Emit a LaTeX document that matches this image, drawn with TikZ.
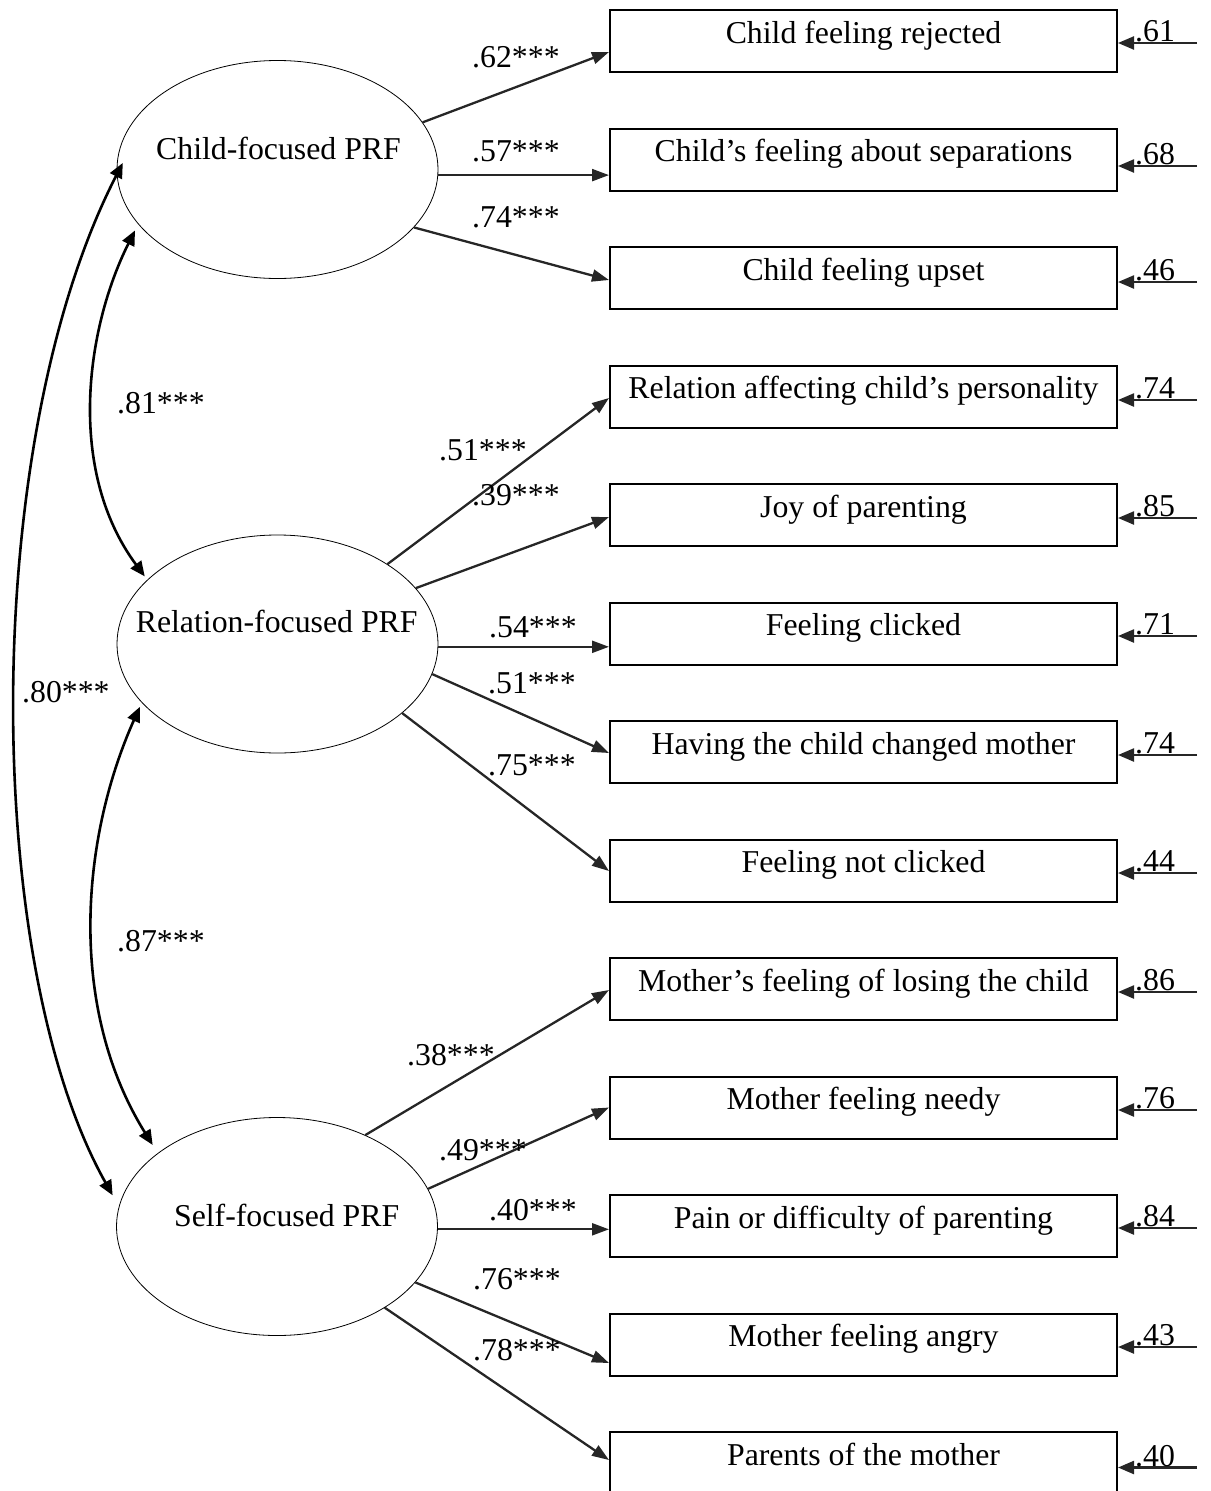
\documentclass[tikz,border=0pt]{standalone}
\usepackage{fontspec}
\setmainfont{Liberation Serif}
\usetikzlibrary{arrows.meta,shapes.geometric,calc}
\newcommand\myfs{\fontsize{31.8}{36}\selectfont}
\begin{document}
\begin{tikzpicture}[x=1pt,y=-1pt,
  lat/.style={ellipse, draw, line width=0.8pt, minimum width=321pt, minimum height=218pt, inner sep=0pt},
  lattxt/.style={font=\myfs, inner sep=0pt, anchor=base},
  ind/.style={draw, line width=2pt, minimum width=507pt, minimum height=62pt, inner sep=0pt,
              text height=22pt, text depth=18pt, font=\myfs},
  ldg/.style={draw=black!85, line width=2.3pt, -{Triangle[length=17pt,width=12pt]}},
  err/.style={draw=black!85, line width=2.3pt, -{Triangle[length=16pt,width=13pt]}},
  cur/.style={draw=black, line width=2.6pt, {Triangle[length=15pt,width=13pt]}-{Triangle[length=15pt,width=13pt]}},
  coef/.style={font=\myfs, inner sep=0pt, anchor=base west}
]
\useasboundingbox (0,0) rectangle (1210,1491);

% latent variables
\node[lat] (cf) at (277.5,169.5) {};
\node[lat] (rf) at (277.5,644) {};
\node[lat] (sf) at (277,1226.5) {};
\node[lattxt] (cft) at (278.5,159.3) {Child-focused PRF};
\node[lattxt] (rft) at (276.7,632.7) {Relation-focused PRF};
\node[lattxt] (sft) at (286.7,1226.7) {Self-focused PRF};

% indicators with error terms
\foreach \i/\txt/\er/\dd in {
  1/Child feeling rejected/.61/2,
  2/Child’s feeling about separations/.68/6.5,
  3/Child feeling upset/.46/4,
  4/Relation affecting child’s personality/.74/3.5,
  5/Joy of parenting/.85/3,
  6/Feeling clicked/.71/2.5,
  7/Having the child changed mother/.74/3,
  8/Feeling not clicked/.44/2.5,
  9/Mother’s feeling of losing the child/.86/3,
  10/Mother feeling needy/.76/2.5,
  11/Pain or difficulty of parenting/.84/2,
  12/Mother feeling angry/.43/2.5,
  13/Parents of the mother/.40/4.5}{
  \node[ind] (b\i) at (863.5,{41+118.5*(\i-1)}) {\txt};
  \coordinate (e\i) at (1197,{41+118.5*(\i-1)+\dd});
  \draw[err] (e\i) -- (e\i -| b\i.east);
  \node[coef] (el\i) at (1135,{41+118.5*(\i-1)+\dd-1.5}) {\er};
}

% loadings
\draw[ldg] (cf.18) -- ([yshift=-11pt]b1.west);
\draw[ldg] (cf.-2) -- (cf.-2 -| b2.west);
\draw[ldg] (cf.-23) -- ([yshift=-2pt]b3.west);
\draw[ldg] (rf.36) -- ([yshift=-1.5pt]b4.west);
\draw[ldg] (rf.22) -- ([yshift=-2pt]b5.west);
\draw[ldg] (rf.-1) -- (rf.-1 -| b6.west);
\draw[ldg] (rf.-11) -- ([yshift=-1pt]b7.west);
\draw[ldg] (rf.-29) -- ([yshift=-0.5pt]b8.west);
\draw[ldg] (sf.46) -- ([yshift=-1pt]b9.west);
\draw[ldg] (sf.14) -- (b10.west);
\draw[ldg] (sf.-1) -- (sf.-1 -| b11.west);
\draw[ldg] (sf.-22) -- ([yshift=-18.5pt]b12.west);
\draw[ldg] (sf.-37) -- ([yshift=3pt]b13.west);

% loading labels
\node[coef] (c1) at (472,67) {.62***};
\node[coef] (c2) at (472,161) {.57***};
\node[coef] (c3) at (472,227) {.74***};
\node[coef] (c4) at (439,460) {.51***};
\node[coef] (c5) at (472,505) {.39***};
\node[coef] (c6) at (489,637) {.54***};
\node[coef] (c7) at (488,693) {.51***};
\node[coef] (c8) at (488,775) {.75***};
\node[coef] (c9) at (407,1065) {.38***};
\node[coef] (c10) at (439,1160) {.49***};
\node[coef] (c11) at (489,1220) {.40***};
\node[coef] (c12) at (473,1289) {.76***};
\node[coef] (c13) at (473,1360) {.78***};

% correlations
\coordinate (a80t) at ([shift={(6pt,1pt)}]cf.178);
\coordinate (a80b) at ([shift={(-12pt,-4pt)}]sf.167);
\coordinate (a81t) at ([shift={(-6pt,-3pt)}]cf.203);
\coordinate (a81b) at ([shift={(-4pt,2pt)}]rf.153);
\coordinate (a87t) at ([shift={(-5pt,-1pt)}]rf.205);
\coordinate (a87b) at ([shift={(-8pt,6pt)}]sf.147);
\draw[cur] (a80t) .. controls (-20,440) and (-19,961) .. (a80b);
\draw[cur] (a81t) .. controls (86,328) and (66,470) .. (a81b);
\draw[cur] (a87t) .. controls (80,841) and (68,1009) .. (a87b);
\node[coef] (r81) at (117,413) {.81***};
\node[coef] (r80) at (22,702) {.80***};
\node[coef] (r87) at (117,951) {.87***};
\end{tikzpicture}
\end{document}
